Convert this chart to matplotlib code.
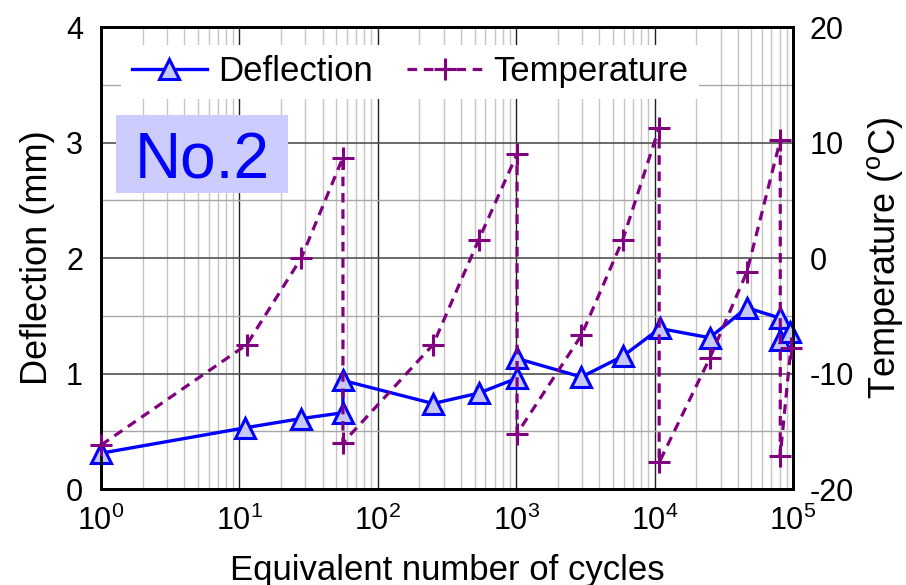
import numpy as np
import matplotlib
matplotlib.use("Agg")
import matplotlib.pyplot as plt
from matplotlib.ticker import LogLocator, MultipleLocator, NullFormatter
from matplotlib.lines import Line2D
from matplotlib.patches import Rectangle

plt.rcParams['font.family'] = ['Liberation Sans', 'DejaVu Sans']
plt.rcParams['mathtext.fontset'] = 'custom'
plt.rcParams['mathtext.rm'] = 'Liberation Sans'
plt.rcParams['mathtext.it'] = 'Liberation Sans:italic'
plt.rcParams['axes.unicode_minus'] = False

# deflection (left axis, mm)
defl_cycles = [1, 11, 28, 56, 56, 251, 537, 1015, 1015, 2960, 5900, 10900,
               25000, 46500, 80500, 80500, 95000]
defl_mm = [0.31, 0.53, 0.61, 0.66, 0.94, 0.74, 0.83, 0.96, 1.13, 0.97, 1.15,
           1.39, 1.31, 1.57, 1.48, 1.29, 1.36]

# temperature (right axis, degC)
temp_cycles = [1, 11.3, 28, 56, 56, 251, 537, 1015, 1015, 2960, 5900, 10800,
               10800, 25000, 46500, 81000, 81000, 96600]
temp_c = [-16.2, -7.5, 0.0, 8.7, -16.0, -7.5, 1.6, 9.0, -15.2, -6.7, 1.6,
          11.3, -17.7, -8.7, -1.2, 10.2, -17.1, -7.8]

fig = plt.figure(figsize=(9.06, 5.85), dpi=100)
ax1 = fig.add_axes([0.1115, 0.1641, 0.7637, 0.7897])
ax2 = ax1.twinx()

ax1.set_xscale('log')
ax1.set_xlim(1, 1e5)
ax1.set_ylim(0, 4)
ax2.set_ylim(-20, 20)

ax1.xaxis.set_major_locator(LogLocator(base=10, numticks=10))
ax1.xaxis.set_minor_locator(LogLocator(base=10, subs=np.arange(2, 10), numticks=20))
ax1.xaxis.set_minor_formatter(NullFormatter())
ax1.yaxis.set_major_locator(MultipleLocator(1))
ax1.yaxis.set_minor_locator(MultipleLocator(0.5))
ax2.yaxis.set_major_locator(MultipleLocator(10))
ax2.yaxis.set_minor_locator(MultipleLocator(5))

# grid
ax1.grid(which='major', axis='x', color='#202020', lw=1.0)
ax1.grid(which='minor', axis='x', color='#c4c4c4', lw=1.0)
ax1.grid(which='major', axis='y', color='#505050', lw=1.2)
ax1.grid(which='minor', axis='y', color='#a8a8a8', lw=1.0)
ax1.set_axisbelow(True)

ax1.tick_params(which='both', length=0, labelsize=22)
ax1.tick_params(axis='y', pad=13)
ax1.tick_params(axis='x', pad=12)
ax2.tick_params(which='both', length=0, labelsize=22, pad=12)

for ax in (ax1, ax2):
    for s in ax.spines.values():
        s.set_linewidth(2)
        s.set_color('black')

ax1.plot(defl_cycles, defl_mm, color='#0000ff', lw=2.4, marker='^',
         ms=14, mfc='#c8c8f8', mec='#0000ff', mew=2.2, clip_on=False,
         zorder=3)
ax2.plot(temp_cycles, temp_c, color='#800080', lw=2.3, ls=(0, (3.0, 2.1)),
         marker='+', ms=16, mew=2.2, clip_on=False, zorder=3)

ax1.set_xlabel('Equivalent number of cycles', fontsize=25, labelpad=12)
ax1.set_ylabel('Deflection (mm)', fontsize=26, labelpad=8)
ax2.set_ylabel('Temperature ($^{\\rm o}$C)', fontsize=26, labelpad=8)

# "No.2" tag
ax1.add_patch(Rectangle((0.0217, 0.6407), 0.2486, 0.1688,
                        transform=ax1.transAxes, facecolor='#ccccff',
                        edgecolor='none', zorder=2.5))
ax1.text(0.146, 0.673, 'No.2', transform=ax1.transAxes, fontsize=46,
         color='#0000ff', ha='center', va='baseline', zorder=2.6)

handles = [
    Line2D([], [], color='#0000ff', lw=2.4, marker='^', ms=14,
           mfc='#c8c8f8', mec='#0000ff', mew=2.2),
    Line2D([], [], color='#800080', lw=2.3, ls=(0, (3.0, 2.1)),
           marker='+', ms=16, mew=2.2),
]
leg = ax2.legend(handles, ['Deflection', 'Temperature'], ncol=2,
                 loc='center', bbox_to_anchor=(0.447, 0.903), fontsize=25,
                 frameon=True, framealpha=1, edgecolor='none', fancybox=False,
                 handlelength=2.16, handletextpad=0.32, columnspacing=1.0,
                 borderpad=0.3, borderaxespad=0)

fig.savefig('out.png', dpi=100)
